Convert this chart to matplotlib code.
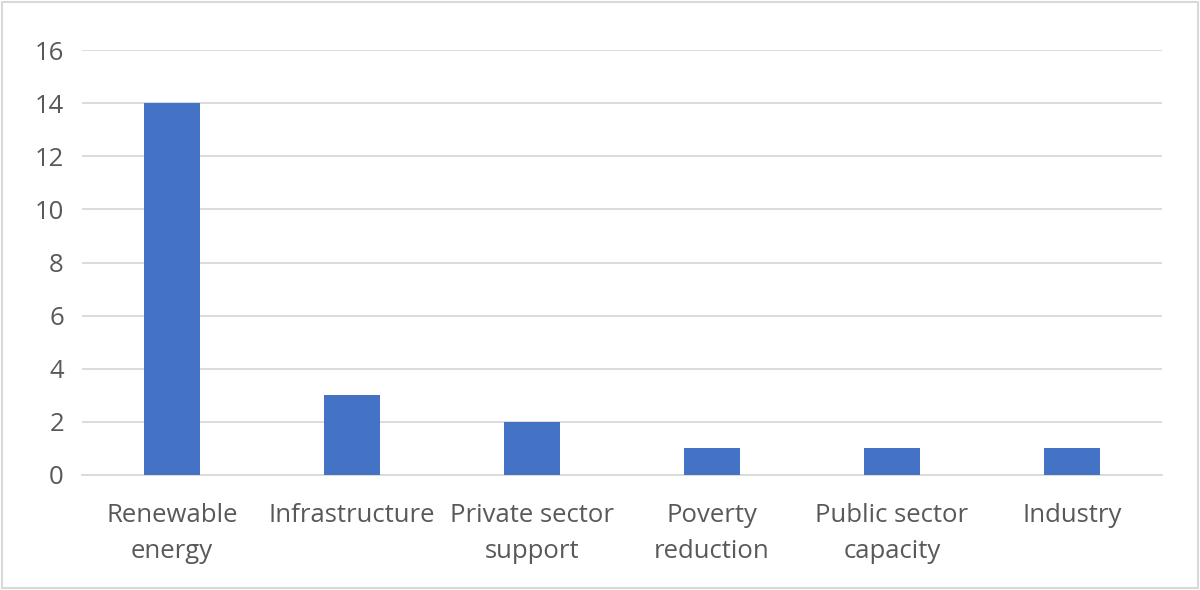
import matplotlib
matplotlib.use("Agg")
import matplotlib.pyplot as plt
from matplotlib.patches import Rectangle

categories = ["Renewable\nenergy", "Infrastructure", "Private sector\nsupport",
              "Poverty\nreduction", "Public sector\ncapacity", "Industry"]
values = [14, 3, 2, 1, 1, 1]
yticks = [0, 2, 4, 6, 8, 10, 12, 14, 16]

plt.rcParams['font.family'] = ['Open Sans', 'DejaVu Sans']

W, H = 1200, 590
fig = plt.figure(figsize=(W / 100, H / 100), dpi=100)
fig.patches.append(Rectangle((2 / W, 2 / H), 1 - 4 / W, 1 - 4 / H, transform=fig.transFigure,
                             fill=False, edgecolor="#D9D9D9", linewidth=1.5))
ax = fig.add_axes([82 / W, 1 - 475 / H, 1080 / W, 425 / H])
x = list(range(len(categories)))
ax.bar(x, values, width=0.31, color="#4472C4", zorder=3)
ax.set_xlim(-0.5, len(categories) - 0.5)
ax.set_ylim(0, 16)
ax.set_yticks(yticks)
ax.set_xticks(x)
ax.set_xticklabels(categories)
ax.grid(axis="y", color="#D9D9D9", linewidth=1.3, zorder=0)
for s in ["top", "right", "left"]:
    ax.spines[s].set_visible(False)
ax.spines["bottom"].set_color("#D9D9D9")
ax.spines["bottom"].set_linewidth(1.3)
ax.tick_params(axis="both", length=0, labelsize=18.5, colors="#595959")
ax.tick_params(axis="x", pad=20.5)
ax.tick_params(axis="y", pad=13)
for lab in ax.get_xticklabels():
    lab.set_linespacing(1.55)
fig.savefig("out.png", dpi=100)
